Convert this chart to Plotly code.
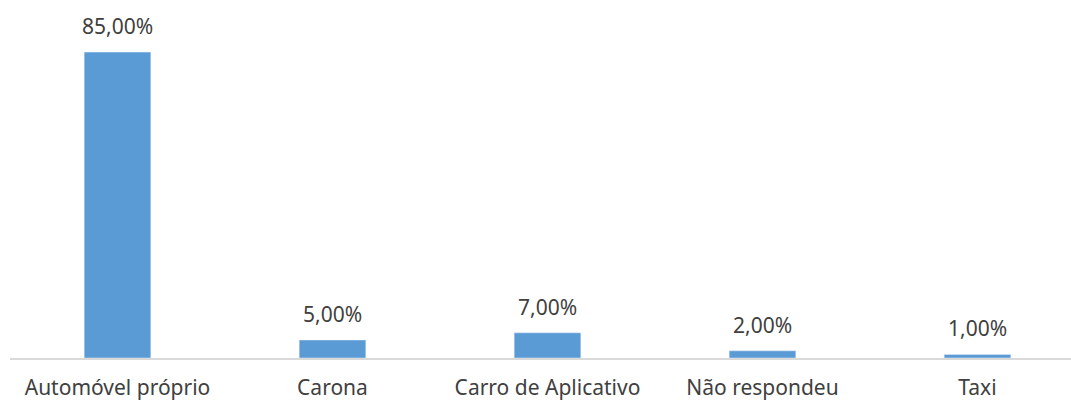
import plotly.graph_objects as go

categorias = ["Automóvel próprio", "Carona", "Carro de Aplicativo", "Não respondeu", "Taxi"]
percentuais = [85, 5, 7, 2, 1]

fonte = "Noto Sans, Lato, sans-serif"

fig = go.Figure(
    go.Bar(
        x=categorias,
        y=percentuais,
        marker_color="#5B9BD5",
        hoverinfo="x+y",
    )
)

# rótulos acima das barras
for cat, val in zip(categorias, percentuais):
    fig.add_annotation(
        x=cat, y=val,
        text=f"{val:.2f}%".replace(".", ","),
        showarrow=False,
        yanchor="bottom",
        yshift=10,
        font=dict(family=fonte, size=21, color="#404040"),
    )

fig.update_layout(
    width=1071,
    height=401,
    margin=dict(l=10, r=0, t=0, b=0),
    plot_bgcolor="white",
    paper_bgcolor="white",
    bargap=0.69,
    font=dict(family=fonte, size=21, color="#404040"),
    showlegend=False,
)
# a área do gráfico original passa um pouco da borda direita
fig.update_xaxes(
    range=[-0.5, 4.435],
    showline=True,
    linecolor="#D9D9D9",
    linewidth=1.5,
    ticks="",
    automargin=False,
    ticklabelstandoff=10,
    tickfont=dict(family=fonte, size=21, color="#404040"),
)
fig.update_yaxes(
    range=[0, 96.7],
    domain=[43 / 401, 391 / 401],
    visible=False,
    showgrid=False,
    automargin=False,
)

# tira a margem padrão do <body> para o gráfico ocupar a janela inteira
fig.write_html(
    "out.html",
    config={"displayModeBar": False},
    post_script="document.body.style.margin='0';document.body.style.overflow='hidden';",
)
